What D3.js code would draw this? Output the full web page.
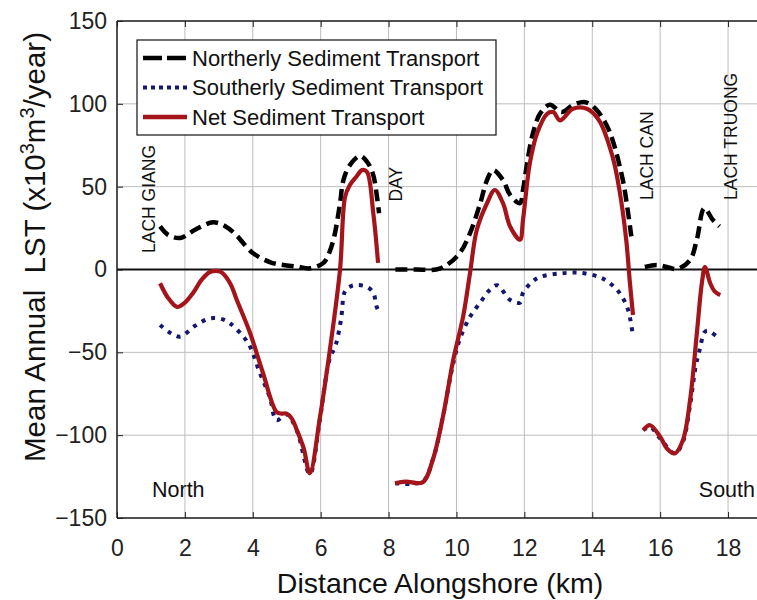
<!DOCTYPE html>
<html>
<head>
<meta charset="utf-8">
<script src="https://cdn.jsdelivr.net/npm/d3@7"></script>
<style>
  body { margin: 0; background: #fff; }
  svg { display: block; font-family: "Liberation Sans", Arial, sans-serif; }
</style>
</head>
<body>
<script>

// distances (km) and LST values (x10^3 m^3/year), null = break in the line
var northDist = [1.27, 1.5, 1.86, 2.3, 2.83, 3.2, 3.5, 4.0, 4.5, 4.9, 5.3, 5.68, 6.08, 6.25, 6.4, 6.57, 6.67, 6.86, 7.16, 7.4, 7.55, 7.65, 7.72,
  7.9,
  8.2, 8.8, 9.4, 9.7, 10.1, 10.4, 10.7, 10.9, 11.08, 11.37, 11.58, 11.87, 11.96, 12.08, 12.25, 12.46, 12.75, 13.1, 13.45, 13.8, 14.1, 14.4, 14.6, 14.9, 15.05, 15.15,
  15.3,
  15.55, 15.9, 16.2, 16.5, 16.88, 17.08, 17.3, 17.55, 17.75];
var northLST = [26, 21, 19, 24, 28.5, 26, 21, 10, 4.5, 2.7, 1.8, 0.7, 4, 10, 20, 40, 54, 63, 68.5, 64, 57, 45, 34,
  null,
  0, 0, 0, 2.5, 10, 22, 40, 54, 60, 54, 45, 40, 48, 64, 82, 94, 99.5, 95, 99.5, 101, 97, 88, 78, 54, 35, 20,
  null,
  1.5, 2.7, 1.5, 0.3, 5.7, 18, 37, 30, 26];

var southDist = [1.27, 1.55, 1.86, 2.3, 2.74, 3.1, 3.33, 3.7, 3.92, 4.2, 4.5, 4.7, 5.0, 5.3, 5.68, 5.98, 6.25, 6.45, 6.6, 6.72, 6.9, 7.1, 7.36, 7.55, 7.64, 7.7,
  7.9,
  8.2, 9.0, 9.3, 9.6, 9.9, 10.1, 10.4, 10.7, 10.95, 11.2, 11.58, 11.87, 11.96, 12.2, 12.46, 13.05, 13.64, 14.2, 14.5, 14.8, 15.05, 15.2,
  15.3,
  15.5, 15.7, 16.0, 16.43, 16.67, 16.88, 17.05, 17.17, 17.3, 17.4, 17.7];
var southLST = [-33.5, -38, -40.5, -34, -29.5, -30, -32.5, -40, -46.6, -62, -77, -91, -87.5, -97.5, -123.5, -90, -55, -45, -30, -13, -10, -9.4, -10.5, -14, -22, -25,
  null,
  -129, -128, -115, -89, -57, -42, -28.5, -20, -13, -9.5, -18.4, -20, -14, -8, -4.5, -2.4, -2, -4.5, -8, -14, -24, -40.6,
  null,
  -97, -95, -102, -111, -104, -82, -58, -48, -38, -37, -41];

var netDist = [1.27, 1.5, 1.77, 2.0, 2.24, 2.5, 2.74, 3.0, 3.12, 3.35, 3.53, 3.92, 4.3, 4.7, 4.85, 5.0, 5.15, 5.3, 5.5, 5.68, 5.98, 6.27, 6.57, 6.72, 6.86, 7.05, 7.22, 7.36, 7.55, 7.69,
  7.9,
  8.19, 8.5, 9.0, 9.3, 9.6, 9.9, 10.2, 10.4, 10.6, 10.9, 11.13, 11.37, 11.58, 11.87, 11.96, 12.16, 12.37, 12.67, 12.85, 13.05, 13.43, 13.84, 14.2, 14.6, 14.8, 15.0, 15.1, 15.2,
  15.3,
  15.5, 15.7, 16.0, 16.2, 16.43, 16.67, 16.88, 17.08, 17.23, 17.32, 17.47, 17.6, 17.77];
var netLST = [-8.3, -17, -22.6, -20, -14.2, -6, -1.5, -1, -2.4, -9, -18.4, -38.3, -62.5, -86, -87, -87, -90, -97, -108, -123, -89, -48.6, 0, 44, 51, 56, 60, 59, 34, 4,
  null,
  -129, -128, -128.5, -115, -89, -55, -28, -2, 24, 40, 48, 40, 26, 18, 30, 64, 82, 94, 95, 90, 97, 97, 90, 68, 48, 18, -6, -27.5,
  null,
  -97, -94, -101, -108, -111, -103, -79, -38.6, -8, 1.5, -8, -13, -15.4];

var xTicks = [0, 2, 4, 6, 8, 10, 12, 14, 16, 18];
var yTicks = [-150, -100, -50, 0, 50, 100, 150];

var seriesNames = ["Northerly Sediment Transport", "Southerly Sediment Transport", "Net Sediment Transport"];

// inlet labels along the coast
var inletNames = ["LACH GIANG", "DAY", "LACH CAN", "LACH TRUONG"];
var inletDist = [1.12, 8.4, 15.8, 18.25];
var inletLST = [10, 41, 42, 42];

var width = 757, height = 600;

var x = d3.scaleLinear().domain([0, 19]).range([117, 762]);
var y = d3.scaleLinear().domain([-150, 150]).range([518, 21]);

var svg = d3.select("body").append("svg")
    .attr("width", width)
    .attr("height", height);

// grid
svg.append("g").selectAll("line")
    .data(xTicks)
  .enter().append("line")
    .attr("x1", function(d) { return x(d); })
    .attr("x2", function(d) { return x(d); })
    .attr("y1", y(150))
    .attr("y2", y(-150))
    .attr("stroke", "#bdbdbd")
    .attr("stroke-width", 1);

svg.append("g").selectAll("line")
    .data(yTicks)
  .enter().append("line")
    .attr("x1", x(0))
    .attr("x2", x(19))
    .attr("y1", function(d) { return y(d); })
    .attr("y2", function(d) { return y(d); })
    .attr("stroke", "#bdbdbd")
    .attr("stroke-width", 1);

// axes
svg.append("g")
    .attr("transform", "translate(0," + y(-150) + ")")
    .call(d3.axisBottom(x).tickValues(xTicks).tickSizeInner(-6).tickSizeOuter(0).tickPadding(22));

svg.append("g")
    .attr("transform", "translate(0," + y(150) + ")")
    .call(d3.axisTop(x).tickValues(xTicks).tickSizeInner(-6).tickSizeOuter(0).tickFormat(""));

svg.append("g")
    .attr("transform", "translate(" + x(0) + ",0)")
    .call(d3.axisLeft(y).tickValues(yTicks).tickSizeInner(-6).tickSizeOuter(0).tickPadding(10));

svg.selectAll(".domain").remove();
svg.selectAll(".tick line").attr("stroke", "#222");
svg.selectAll(".tick text")
    .attr("font-size", 23)
    .attr("font-family", "Liberation Sans, Arial, sans-serif")
    .attr("fill", "#222");

// box
svg.append("line")
    .attr("x1", x(0)).attr("x2", x(0))
    .attr("y1", y(150)).attr("y2", y(-150))
    .attr("stroke", "#222").attr("stroke-width", 1.5);
svg.append("line")
    .attr("x1", x(0)).attr("x2", x(19))
    .attr("y1", y(-150)).attr("y2", y(-150))
    .attr("stroke", "#222").attr("stroke-width", 1.5);
svg.append("line")
    .attr("x1", x(0)).attr("x2", x(19))
    .attr("y1", y(150)).attr("y2", y(150))
    .attr("stroke", "#222").attr("stroke-width", 1.5);

// zero line
svg.append("line")
    .attr("x1", x(0)).attr("x2", x(19))
    .attr("y1", y(0)).attr("y2", y(0))
    .attr("stroke", "#111").attr("stroke-width", 2);

var line = d3.line()
    .defined(function(d) { return d[1] !== null; })
    .x(function(d) { return x(d[0]); })
    .y(function(d) { return y(d[1]); })
    .curve(d3.curveCatmullRom.alpha(0.5));

var north = d3.zip(northDist, northLST);
var south = d3.zip(southDist, southLST);
var net = d3.zip(netDist, netLST);

svg.append("path")
    .datum(south)
    .attr("d", line)
    .attr("fill", "none")
    .attr("stroke", "#15166e")
    .attr("stroke-width", 4)
    .attr("stroke-dasharray", "4,6");

svg.append("path")
    .datum(north)
    .attr("d", line)
    .attr("fill", "none")
    .attr("stroke", "#000")
    .attr("stroke-width", 4.5)
    .attr("stroke-dasharray", "12,6");

svg.append("path")
    .datum(net)
    .attr("d", line)
    .attr("fill", "none")
    .attr("stroke", "#a3141b")
    .attr("stroke-width", 4.2)
    .attr("stroke-linejoin", "round");

// inlet labels
svg.append("g").selectAll("text")
    .data(inletNames)
  .enter().append("text")
    .attr("transform", function(d, i) {
      return "translate(" + x(inletDist[i]) + "," + y(inletLST[i]) + ") rotate(-90)";
    })
    .attr("font-size", 17.5)
    .attr("fill", "#111")
    .text(function(d) { return d; });

svg.append("text")
    .attr("x", 152).attr("y", 497)
    .attr("font-size", 21.5)
    .attr("fill", "#111")
    .text("North");

svg.append("text")
    .attr("x", 755).attr("y", 497)
    .attr("text-anchor", "end")
    .attr("font-size", 21.5)
    .attr("fill", "#111")
    .text("South");

// axis titles
svg.append("text")
    .attr("x", 440).attr("y", 593)
    .attr("text-anchor", "middle")
    .attr("font-size", 28.5)
    .attr("fill", "#111")
    .text("Distance Alongshore (km)");

var yTitle = svg.append("text")
    .attr("transform", "translate(45,247) rotate(-90)")
    .attr("text-anchor", "middle")
    .attr("font-size", 29.5)
    .attr("fill", "#111")
    .style("white-space", "pre");
yTitle.append("tspan").text("Mean Annual  LST (x10");
yTitle.append("tspan").attr("dy", -11).attr("font-size", 20).text("3");
yTitle.append("tspan").attr("dy", 11).text("m");
yTitle.append("tspan").attr("dy", -11).attr("font-size", 20).text("3");
yTitle.append("tspan").attr("dy", 11).text("/year)");

// legend
var legend = svg.append("g").attr("transform", "translate(137,40)");
legend.append("rect")
    .attr("width", 359).attr("height", 95)
    .attr("fill", "#fff")
    .attr("stroke", "#111")
    .attr("stroke-width", 1.2);

var legendStyle = [
  {color: "#000", dash: "19,5", w: 4.5},
  {color: "#15166e", dash: "4,4", w: 4},
  {color: "#a3141b", dash: null, w: 4.5}
];

var item = legend.selectAll(".item")
    .data(seriesNames)
  .enter().append("g")
    .attr("class", "item")
    .attr("transform", function(d, i) { return "translate(0," + (18 + i * 29.5) + ")"; });

item.append("line")
    .attr("x1", 6).attr("x2", 50)
    .attr("stroke", function(d, i) { return legendStyle[i].color; })
    .attr("stroke-width", function(d, i) { return legendStyle[i].w; })
    .attr("stroke-dasharray", function(d, i) { return legendStyle[i].dash; });

item.append("text")
    .attr("x", 55).attr("dy", "0.35em")
    .attr("font-size", 22)
    .attr("fill", "#111")
    .text(function(d) { return d; });

</script>
</body>
</html>
